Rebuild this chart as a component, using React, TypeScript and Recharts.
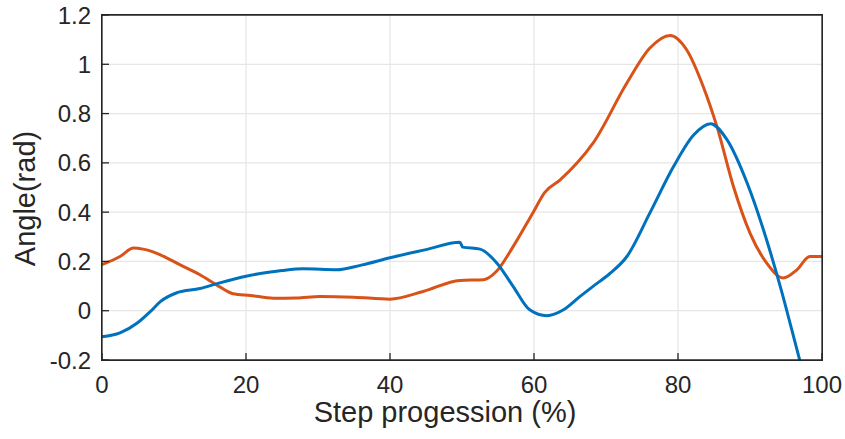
import { LineChart, Line, XAxis, YAxis, CartesianGrid } from 'recharts'

// step progression (%) / angle (rad)
const blueX = [0, 2.5, 4.9, 6.7, 8.1, 10.4, 13.6, 16, 20, 22.9, 25, 28, 32.6, 36, 40, 45, 49.7, 50.1, 52.5, 54.8, 57.1, 59.4, 61.8, 64.1, 66.4, 68.2, 70.5, 72.9, 76.1, 79.4, 82.2, 84.5, 86.8, 89.6, 92.3, 94.2, 96.9, 98]
const blueY = [-0.106, -0.09, -0.05, -0.004, 0.037, 0.073, 0.09, 0.11, 0.14, 0.155, 0.163, 0.17, 0.166, 0.185, 0.215, 0.248, 0.278, 0.258, 0.25, 0.195, 0.099, 0.004, -0.02, 0.004, 0.058, 0.099, 0.15, 0.22, 0.397, 0.586, 0.714, 0.759, 0.694, 0.518, 0.288, 0.099, -0.2, -0.32]

const orangeX = [0, 2.5, 4.4, 5.7, 7, 8.1, 10.8, 13.6, 15.9, 18.2, 20.6, 23.8, 27, 30.3, 35, 40, 44.6, 49.7, 53, 54.8, 57.1, 59.9, 61.5, 63.6, 66, 68.2, 72.9, 76.1, 78.9, 81.2, 83.5, 85.4, 87.7, 90, 92.3, 94.6, 96.5, 98.3, 100]
const orangeY = [0.187, 0.22, 0.254, 0.25, 0.24, 0.227, 0.187, 0.146, 0.105, 0.069, 0.062, 0.051, 0.052, 0.058, 0.055, 0.047, 0.078, 0.123, 0.126, 0.16, 0.26, 0.4, 0.48, 0.53, 0.6, 0.68, 0.924, 1.066, 1.117, 1.059, 0.91, 0.748, 0.504, 0.315, 0.194, 0.133, 0.166, 0.22, 0.22]

const xTicks = [0, 20, 40, 60, 80, 100]
const yTicks = [-0.2, 0, 0.2, 0.4, 0.6, 0.8, 1, 1.2]
// inner grid lines only, the box edges are the axes
const gridX = [20, 40, 60, 80]
const gridY = [0, 0.2, 0.4, 0.6, 0.8, 1]

const blueData = blueX.map((x, i) => ({ x, y: blueY[i] }))
const orangeData = orangeX.map((x, i) => ({ x, y: orangeY[i] }))

const FONT = "'Liberation Sans', Arial, sans-serif"
const AXIS = '#262626'
const TICK_STYLE = { fill: AXIS, fontSize: 24, fontFamily: FONT }
const AXIS_LINE = { stroke: AXIS, strokeWidth: 1.3 }

const blank = () => ''

function XLabel({ viewBox }: any) {
  const { x, y, width } = viewBox
  return (
    <text x={x + width / 2 - 17} y={y + 62} textAnchor="middle" fill={AXIS} fontSize={29} fontFamily={FONT}>
      Step progession (%)
    </text>
  )
}

function YLabel({ viewBox }: any) {
  const { x, y, height } = viewBox
  const cx = x + 35
  const cy = y + height / 2 + 11
  return (
    <text x={cx} y={cy} transform={`rotate(-90 ${cx} ${cy})`} textAnchor="middle" fill={AXIS} fontSize={29} fontFamily={FONT}>
      Angle(rad)
    </text>
  )
}

export default function App() {
  return (
    <div style={{ position: 'absolute', left: 0, top: 0, width: 845, height: 439, background: '#fff' }}>
      <LineChart
        width={845}
        height={439}
        margin={{ top: 14, right: 22, bottom: 0, left: 0 }}
      >
        <CartesianGrid stroke="#e6e6e6" strokeWidth={1.2} horizontalValues={gridY} verticalValues={gridX} />
        <XAxis
          dataKey="x"
          type="number"
          domain={[0, 100]}
          ticks={xTicks}
          height={79}
          tickSize={-7}
          tickMargin={23}
          axisLine={AXIS_LINE}
          tickLine={AXIS_LINE}
          tick={TICK_STYLE}
          label={<XLabel />}
        />
        <XAxis
          xAxisId="top"
          orientation="top"
          type="number"
          domain={[0, 100]}
          ticks={xTicks}
          height={1}
          tickSize={-7}
          axisLine={AXIS_LINE}
          tickLine={AXIS_LINE}
          tickFormatter={blank}
        />
        <YAxis
          type="number"
          domain={[-0.2, 1.2]}
          ticks={yTicks}
          allowDataOverflow
          width={102}
          tickSize={-7}
          tickMargin={18}
          axisLine={AXIS_LINE}
          tickLine={AXIS_LINE}
          tick={TICK_STYLE}
          tickFormatter={(v) => `${Math.round(v * 10) / 10}`}
          label={<YLabel />}
        />
        <YAxis
          yAxisId="right"
          orientation="right"
          type="number"
          domain={[-0.2, 1.2]}
          ticks={yTicks}
          width={1}
          tickSize={-7}
          axisLine={AXIS_LINE}
          tickLine={AXIS_LINE}
          tickFormatter={blank}
        />
        <Line data={orangeData} dataKey="y" type="monotone" stroke="#D95319" strokeWidth={3} dot={false} isAnimationActive={false} />
        <Line data={blueData} dataKey="y" type="monotone" stroke="#0072BD" strokeWidth={3} dot={false} isAnimationActive={false} />
      </LineChart>
      {/* plot frame (MATLAB box on) */}
      <div
        style={{
          position: 'absolute', left: 101, top: 14, width: 722, height: 347,
          boxSizing: 'border-box', border: `1px solid ${AXIS}`, pointerEvents: 'none',
        }}
      />
    </div>
  )
}
